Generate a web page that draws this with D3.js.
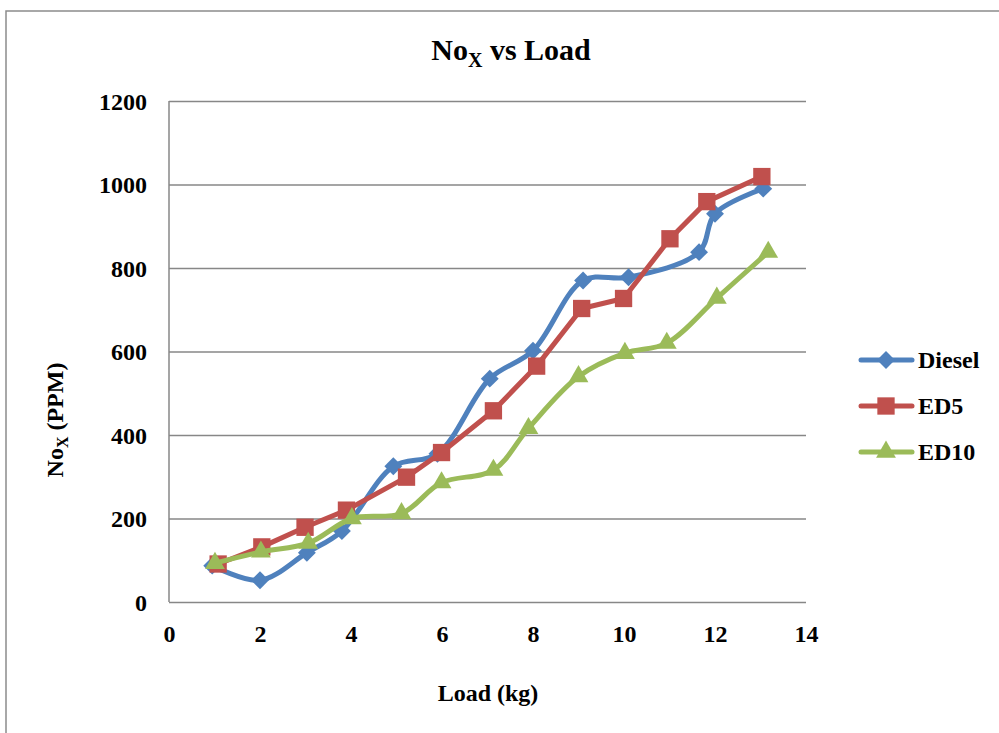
<!DOCTYPE html>
<html>
<head>
<meta charset="utf-8">
<script src="https://cdn.jsdelivr.net/npm/d3@7"></script>
<style>
  html, body { margin: 0; padding: 0; background: #fff; }
  svg { display: block; }
  text { font-family: "Liberation Serif", "Times New Roman", serif; font-weight: bold; fill: #000; }
</style>
</head>
<body>
<svg id="chart" width="999" height="733"></svg>
<script>
// ---- data ----
const seriesNames = ["Diesel", "ED5", "ED10"];
const dieselX = [0.95, 2.0, 3.03, 3.8, 4.93, 5.9, 7.05, 8.0, 9.1, 10.1, 11.65, 12.0, 13.06];
const dieselY = [87, 52, 118, 170, 325, 355, 535, 602, 770, 778, 838, 930, 990];
const ed5X = [1.08, 2.04, 2.99, 3.9, 5.22, 5.99, 7.13, 8.08, 9.07, 9.99, 11.01, 11.82, 13.03];
const ed5Y = [91, 132, 179, 220, 299, 358, 458, 565, 703, 727, 870, 959, 1019];
const ed10X = [1.01, 2.02, 3.06, 4.02, 5.11, 5.99, 7.13, 7.9, 9.0, 10.02, 10.94, 12.04, 13.17];
const ed10Y = [93, 120, 141, 200, 212, 286, 316, 416, 540, 596, 620, 728, 838];
const xTicks = [0, 2, 4, 6, 8, 10, 12, 14];
const yTicks = [0, 200, 400, 600, 800, 1000, 1200];
const colors = ["#4F81BD", "#C0504D", "#9BBB59"];

const series = [
  { name: seriesNames[0], xs: dieselX, ys: dieselY, color: colors[0], marker: d3.symbolSquare, rot: 45, msize: 160, curve: d3.curveCatmullRom.alpha(0.5) },
  { name: seriesNames[1], xs: ed5X, ys: ed5Y, color: colors[1], marker: d3.symbolSquare, rot: 0, msize: 300, curve: d3.curveLinear },
  { name: seriesNames[2], xs: ed10X, ys: ed10Y, color: colors[2], marker: d3.symbolTriangle, rot: 0, msize: 170, curve: d3.curveCatmullRom.alpha(0.5) }
];

const svg = d3.select("#chart");
const FS = 24;

// outer border (partial frame)
svg.append("path")
  .attr("d", "M6,733 L6,11 L999,11")
  .attr("fill", "none").attr("stroke", "#8c8c8c").attr("stroke-width", 1.5);

const x = d3.scaleLinear().domain([0, 14]).range([169, 806]);
const y = d3.scaleLinear().domain([0, 1200]).range([602, 101]);

// gridlines
svg.append("g")
  .attr("transform", "translate(169,0)")
  .call(d3.axisLeft(y).tickValues(yTicks).tickSize(-(806 - 169)).tickFormat(""))
  .call(g => g.select(".domain").remove())
  .call(g => g.selectAll("line").attr("stroke", "#878787").attr("stroke-width", 1.5));

// y axis line
svg.append("line").attr("x1", 169).attr("x2", 169).attr("y1", 101).attr("y2", 602)
  .attr("stroke", "#878787").attr("stroke-width", 1.5);

// y tick labels
svg.append("g")
  .attr("transform", "translate(147,0)")
  .call(d3.axisLeft(y).tickValues(yTicks).tickSize(0).tickPadding(0).tickFormat(d3.format("d")))
  .call(g => g.select(".domain").remove())
  .call(g => g.selectAll("text").attr("font-size", FS).attr("font-family", "Liberation Serif").attr("font-weight", "bold").attr("fill", "#000").attr("dy", "0.34em"));

// x tick labels
svg.append("g")
  .attr("transform", "translate(0,625)")
  .call(d3.axisBottom(x).tickValues(xTicks).tickSize(0).tickPadding(0))
  .call(g => g.select(".domain").remove())
  .call(g => g.selectAll("text").attr("font-size", FS).attr("font-family", "Liberation Serif").attr("font-weight", "bold").attr("fill", "#000").attr("dy", "0.71em"));

// series
series.forEach(s => {
  const pts = s.xs.map((v, i) => [v, s.ys[i]]);
  const line = d3.line().x(d => x(d[0])).y(d => y(d[1])).curve(s.curve);
  svg.append("path").datum(pts)
    .attr("d", line).attr("fill", "none")
    .attr("stroke", s.color).attr("stroke-width", 5)
    .attr("stroke-linejoin", "round").attr("stroke-linecap", "round");
  svg.append("g").selectAll("path").data(pts).join("path")
    .attr("transform", d => `translate(${x(d[0])},${y(d[1])}) rotate(${s.rot})`)
    .attr("d", d3.symbol().type(s.marker).size(s.msize))
    .attr("fill", s.color);
});

// title
const title = svg.append("text").attr("x", 511).attr("y", 60).attr("text-anchor", "middle").attr("font-size", 30);
title.append("tspan").text("No");
title.append("tspan").attr("font-size", 20).attr("dy", 7).text("X");
title.append("tspan").attr("dy", -7).text(" vs Load");

// x axis title
svg.append("text").attr("x", 488).attr("y", 701).attr("text-anchor", "middle").attr("font-size", FS).text("Load (kg)");

// y axis title
const yt = svg.append("text").attr("transform", "translate(63,420) rotate(-90)").attr("text-anchor", "middle").attr("font-size", FS);
yt.append("tspan").text("No");
yt.append("tspan").attr("font-size", 16).attr("dy", 5).text("X");
yt.append("tspan").attr("dy", -5).text(" (PPM)");

// legend
const legendY = [360, 406, 452];
series.forEach((s, i) => {
  const g = svg.append("g").attr("transform", `translate(0,${legendY[i]})`);
  g.append("line").attr("x1", 861).attr("x2", 912).attr("y1", 0).attr("y2", 0)
    .attr("stroke", s.color).attr("stroke-width", 5).attr("stroke-linecap", "round");
  g.append("path").attr("transform", `translate(886,0) rotate(${s.rot})`)
    .attr("d", d3.symbol().type(s.marker).size(s.msize)).attr("fill", s.color);
  g.append("text").attr("x", 918).attr("y", 0).attr("dy", "0.35em").attr("font-size", FS).text(s.name);
});
</script>
</body>
</html>
